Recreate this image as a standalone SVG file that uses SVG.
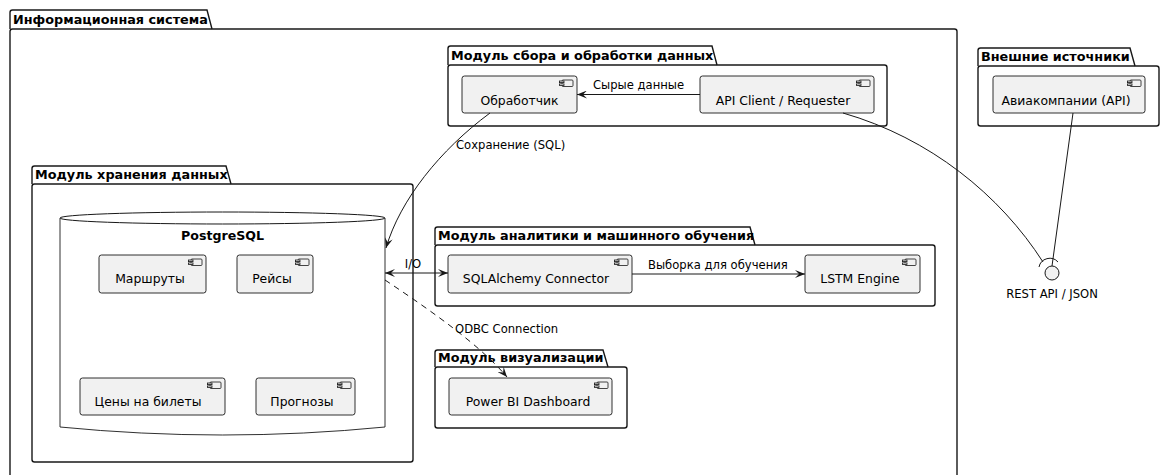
<svg xmlns="http://www.w3.org/2000/svg" width="1162" height="475" viewBox="0 0 1162 475">
  <style>
    .pkg { fill: none; stroke: #181818; stroke-width: 1.4; }
    .comp { fill: #F1F1F1; stroke: #181818; stroke-width: 0.9; }
    .ico { fill: #F1F1F1; stroke: #181818; stroke-width: 0.8; }
    .ptitle { font-family: "DejaVu Sans", sans-serif; font-weight: bold; font-size: 12.8px; fill: #000; }
    .ctext { font-family: "DejaVu Sans", sans-serif; font-size: 12.4px; fill: #000; text-anchor: middle; }
    .dbtitle { font-family: "DejaVu Sans", sans-serif; font-weight: bold; font-size: 12.6px; fill: #000; text-anchor: middle; }
    .lbl { font-family: "DejaVu Sans", sans-serif; font-size: 11.6px; fill: #000; }
    .edge { fill: none; stroke: #181818; stroke-width: 1; }
    .dash { stroke-dasharray: 6 5; }
  </style>
  <defs>
    <marker id="arr" viewBox="0 0 10 8" refX="10" refY="4" markerWidth="10" markerHeight="8" markerUnits="userSpaceOnUse" orient="auto-start-reverse">
      <path d="M0,0 L10,4 L0,8 L4,4 Z" fill="#181818"/>
    </marker>
    <g id="cicon">
      <rect class="ico" x="3" y="0" width="11" height="6.5" rx="1"/>
      <rect class="ico" x="0.5" y="1" width="4.5" height="1.6"/>
      <rect class="ico" x="0.5" y="3.9" width="4.5" height="1.6"/>
    </g>
  </defs>

  <rect width="1162" height="475" fill="#ffffff"/>

  <!-- Packages -->
  <g id="pkg-system">
    <path class="pkg" d="M10,29 V12.5 Q10,10 12.5,10 H207 L212,29"/>
    <rect class="pkg" x="10" y="29" width="947" height="470" rx="2.5"/>
    <text class="ptitle" x="13" y="24">Информационная система</text>
  </g>

  <g id="pkg-collect">
    <path class="pkg" d="M448,65 V48.5 Q448,46 450.5,46 H712 L717,65"/>
    <rect class="pkg" x="448" y="65" width="439" height="61" rx="2.5"/>
    <text class="ptitle" x="451" y="60">Модуль сбора и обработки данных</text>
  </g>

  <g id="pkg-external">
    <path class="pkg" d="M978,66 V50.5 Q978,48 980.5,48 H1130 L1135,66"/>
    <rect class="pkg" x="978" y="66" width="181" height="60" rx="2.5"/>
    <text class="ptitle" x="981" y="61">Внешние источники</text>
  </g>

  <g id="pkg-storage">
    <path class="pkg" d="M32,184 V168.5 Q32,166 34.5,166 H226 L231,184"/>
    <rect class="pkg" x="32" y="184" width="381" height="278" rx="2.5"/>
    <text class="ptitle" x="35" y="179">Модуль хранения данных</text>
  </g>

  <g id="pkg-analytics">
    <path class="pkg" d="M435,245 V229.5 Q435,227 437.5,227 H750 L755,245"/>
    <rect class="pkg" x="435" y="245" width="500" height="61" rx="2.5"/>
    <text class="ptitle" x="438" y="240">Модуль аналитики и машинного обучения</text>
  </g>

  <g id="pkg-viz">
    <path class="pkg" d="M435,367 V352.5 Q435,350 437.5,350 H603 L608,367"/>
    <rect class="pkg" x="435" y="367" width="192" height="61" rx="2.5"/>
    <text class="ptitle" x="438" y="362">Модуль визуализации</text>
  </g>

  <!-- Database -->
  <g id="db-postgres">
    <path class="comp" style="fill:#ffffff" d="M60,218 V427 Q222.5,443 385,427 V218"/>
    <ellipse class="pkg" style="fill:#ffffff;stroke-width:1" cx="222.5" cy="218" rx="162.5" ry="6"/>
    <text class="dbtitle" x="222.5" y="240">PostgreSQL</text>
  </g>

  <!-- Components -->
  <g id="c-handler">
    <rect class="comp" x="462" y="76" width="115" height="37" rx="2.5"/>
    <use href="#cicon" x="559" y="80"/>
    <text class="ctext" x="519.5" y="105">Обработчик</text>
  </g>
  <g id="c-api-client">
    <rect class="comp" x="700" y="76" width="174" height="37" rx="2.5"/>
    <use href="#cicon" x="856" y="80"/>
    <text class="ctext" x="783" y="105">API Client / Requester</text>
  </g>
  <g id="c-airlines">
    <rect class="comp" x="993" y="76" width="152" height="37" rx="2.5"/>
    <use href="#cicon" x="1127" y="80"/>
    <text class="ctext" x="1066" y="105">Авиакомпании (API)</text>
  </g>
  <g id="c-routes">
    <rect class="comp" x="99" y="255" width="107" height="38" rx="2.5"/>
    <use href="#cicon" x="188" y="259"/>
    <text class="ctext" x="150" y="283">Маршруты</text>
  </g>
  <g id="c-flights">
    <rect class="comp" x="237" y="255" width="76" height="38" rx="2.5"/>
    <use href="#cicon" x="295" y="259"/>
    <text class="ctext" x="272" y="283">Рейсы</text>
  </g>
  <g id="c-prices">
    <rect class="comp" x="80" y="378" width="145" height="37" rx="2.5"/>
    <use href="#cicon" x="207" y="382"/>
    <text class="ctext" x="148" y="406">Цены на билеты</text>
  </g>
  <g id="c-forecasts">
    <rect class="comp" x="256" y="378" width="99" height="37" rx="2.5"/>
    <use href="#cicon" x="337" y="382"/>
    <text class="ctext" x="302" y="406">Прогнозы</text>
  </g>
  <g id="c-sqlalchemy">
    <rect class="comp" x="448" y="255" width="184" height="38" rx="2.5"/>
    <use href="#cicon" x="614" y="259"/>
    <text class="ctext" x="536" y="283">SQLAlchemy Connector</text>
  </g>
  <g id="c-lstm">
    <rect class="comp" x="805" y="255" width="115" height="38" rx="2.5"/>
    <use href="#cicon" x="902" y="259"/>
    <text class="ctext" x="860" y="283">LSTM Engine</text>
  </g>
  <g id="c-powerbi">
    <rect class="comp" x="449" y="378" width="163" height="37" rx="2.5"/>
    <use href="#cicon" x="594" y="382"/>
    <text class="ctext" x="528" y="406">Power BI Dashboard</text>
  </g>

  <!-- REST API interface -->
  <g id="i-rest">
    <circle cx="1052" cy="273" r="7" fill="#F1F1F1" stroke="#181818" stroke-width="1"/>
    <text class="ctext" x="1052" y="298" style="font-size:11.6px">REST API / JSON</text>
  </g>

  <!-- Connectors -->
  <g id="connectors">
    <path class="edge" d="M700,94.5 H577" marker-end="url(#arr)"/>
    <text class="lbl" x="593" y="89">Сырые данные</text>

    <path class="edge" d="M490,113 C440,150 400,200 386,248" marker-end="url(#arr)"/>
    <text class="lbl" x="456" y="149">Сохранение (SQL)</text>

    <path class="edge" d="M385,273 H448" marker-start="url(#arr)" marker-end="url(#arr)"/>
    <text class="lbl" x="413" y="268" text-anchor="middle">I/O</text>

    <path class="edge" d="M632,274 H805" marker-end="url(#arr)"/>
    <text class="lbl" x="648" y="269">Выборка для обучения</text>

    <path class="edge dash" d="M385,280 C430,310 480,345 507,377" marker-end="url(#arr)"/>
    <text class="lbl" x="455" y="333">ODBC Connection</text>

    <path class="edge" d="M843,113 C930,138 1000,195 1043,262"/>
    <path class="edge" d="M1039,267 A11,11 0 0 1 1058,262"/>
    <path class="edge" d="M1073,113 L1052,266"/>
  </g>
</svg>
